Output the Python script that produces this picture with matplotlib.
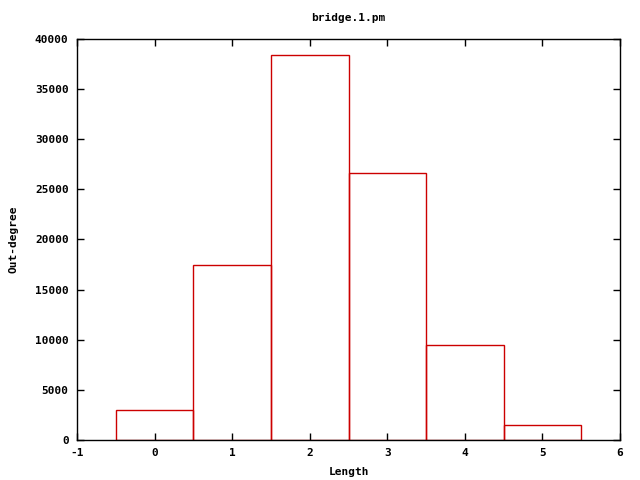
import matplotlib
matplotlib.use("Agg")
import matplotlib.pyplot as plt

# histogram of path lengths
lengths = [0, 1, 2, 3, 4, 5]
counts = [2990, 17470, 38430, 26610, 9500, 1495]

plt.rcParams['font.family'] = 'DejaVu Sans Mono'
plt.rcParams['font.weight'] = 'bold'
plt.rcParams['font.size'] = 8
plt.rcParams['axes.unicode_minus'] = False

fig = plt.figure(figsize=(6.4, 4.8), dpi=100)
ax = fig.add_axes([77 / 640, 1 - 440 / 480, 543 / 640, 401 / 480])

ax.bar(lengths, counts, width=1.0, fill=False, edgecolor='#cc0000', linewidth=1.0)

ax.set_xlim(-1, 6)
ax.set_ylim(0, 40000)
ax.set_xticks(range(-1, 7))
ax.set_yticks(range(0, 40001, 5000))
ax.tick_params(direction='in', top=True, right=True, length=5, width=1, pad=6)
for s in ax.spines.values():
    s.set_linewidth(1)

ax.set_title('bridge.1.pm', fontsize=8, fontweight='bold', pad=13)
ax.set_xlabel('Length', fontweight='bold', labelpad=6)
ax.set_ylabel('Out-degree', fontweight='bold', labelpad=12)

fig.savefig('out.png', dpi=100)
